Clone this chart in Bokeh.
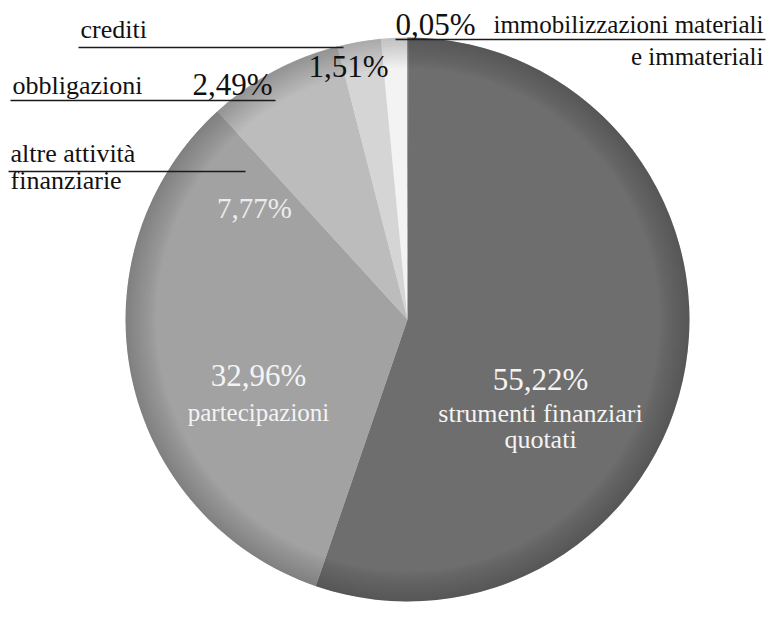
import numpy as np
from bokeh.plotting import figure
from bokeh.models import Range1d, ColumnDataSource
from bokeh.core.properties import value
from bokeh.embed import file_html
from bokeh.resources import INLINE

# ---- data (anticlockwise from 12 o'clock) ----
categories = ["crediti", "obbligazioni", "altre attività finanziarie",
              "partecipazioni", "strumenti finanziari quotati",
              "immobilizzazioni materiali e immateriali"]
shares = [1.51, 2.49, 7.77, 32.96, 55.22, 0.05]
pct_labels = ["1,51%", "2,49%", "7,77%", "32,96%", "55,22%", "0,05%"]
slice_colors = ["#f3f3f3", "#d5d5d5", "#bcbcbc", "#a2a2a2", "#6e6e6e", "#3c3c3c"]

W, H = 767, 610
FONT = value("Liberation Serif")


def X(px):
    return px


def Y(py):
    return H - py


p = figure(width=W, height=H, x_range=Range1d(0, W), y_range=Range1d(0, H),
           output_backend="svg", toolbar_location=None, min_border=0)
p.axis.visible = False
p.grid.visible = False
p.outline_line_color = None
p.background_fill_color = "white"
p.border_fill_color = "white"

cx, cy, R = X(407), Y(319), 282
frac = np.array(shares) / np.sum(shares)
ends = np.pi / 2 + 2 * np.pi * np.cumsum(frac)
starts = ends - 2 * np.pi * frac

src = ColumnDataSource(dict(start=starts, end=ends, color=slice_colors, cat=categories))
p.wedge(x=cx, y=cy, radius=R, start_angle="start", end_angle="end",
        direction="anticlock", fill_color="color", line_color=None, source=src)

# soft darker rim (shading)
for k in range(10):
    p.annulus(x=cx, y=cy, inner_radius=R - 3 * (k + 1), outer_radius=R,
              fill_color="black", fill_alpha=0.018, line_color=None)

# ---- leader lines ----
p.segment(x0=[X(78), X(10), X(8), X(395)], y0=[Y(47), Y(100), Y(171), Y(39)],
          x1=[X(343), X(275), X(245), X(765)], y1=[Y(47), Y(100), Y(171), Y(39)],
          line_color="#1a1a1a", line_width=1.6)


# ---- labels (y given as alphabetic baseline in screen px) ----
def txt(x, base, t, size, color="#111111", align="left"):
    mid = base - 0.34 * size
    p.text(x=[x], y=[Y(mid)], text=[t], text_font=FONT, text_font_size=f"{size}px",
           text_color=color, text_align=align, text_baseline="middle")


txt(X(80), 38, categories[0], 26)
txt(X(308), 77, pct_labels[0], 31)
txt(X(12), 94, categories[1], 26)
txt(X(192), 95, pct_labels[1], 31)
txt(X(10), 162, "altre attività", 26)
txt(X(10), 189, "finanziarie", 26)
txt(X(395), 35, pct_labels[5], 31)
txt(X(763), 32, "immobilizzazioni materiali", 25, align="right")
txt(X(763), 64, "e immateriali", 25, align="right")

txt(X(254), 217, pct_labels[2], 29, color="#ececec", align="center")
txt(X(258), 386, pct_labels[3], 31, color="#f4f4f4", align="center")
txt(X(258), 420, "partecipazioni", 25, color="#f4f4f4", align="center")
txt(X(540), 390, pct_labels[4], 31, color="#f4f4f4", align="center")
txt(X(540), 422, "strumenti finanziari", 26, color="#f4f4f4", align="center")
txt(X(540), 448, "quotati", 26, color="#f4f4f4", align="center")

open("out.html", "w").write(file_html(p, INLINE))
